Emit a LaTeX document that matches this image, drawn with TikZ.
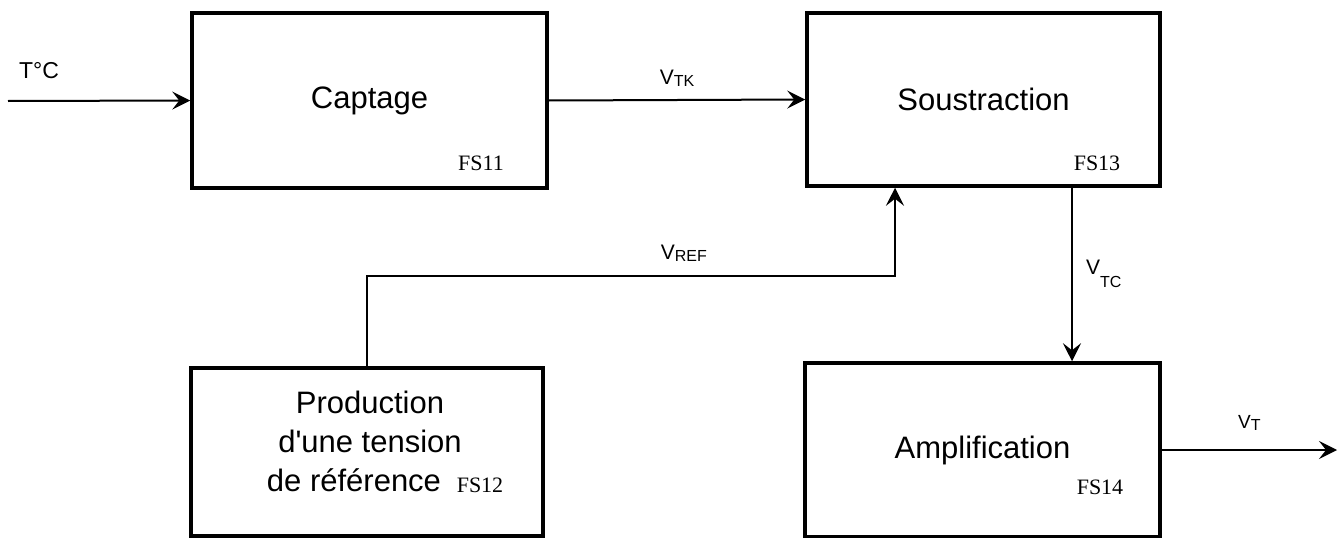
\documentclass[tikz,border=0pt]{standalone}
\usepackage{fontspec}
\setmainfont{Liberation Sans}
\newfontfamily\fsfont{Liberation Serif}
\usetikzlibrary{arrows.meta}

\newcommand\blocfont{\fontsize{31}{39}\selectfont}
\newcommand\sigfont{\fontsize{21}{24}\selectfont}
\newcommand\subfont{\fontsize{16}{16}\selectfont}
% tension: V with lowered index
\newcommand\tens[2][2pt]{V\raisebox{-#1}{\subfont #2}}

\begin{document}
\begin{tikzpicture}[x=1pt,y=-1pt,
    bloc/.style={draw,line width=3.5pt,inner sep=0pt,font=\blocfont,align=center},
    tag/.style={font=\fsfont\fontsize{22}{22}\selectfont,inner sep=0pt},
    sig/.style={font=\sigfont,inner sep=1pt,anchor=base},
    fleche/.style={line width=2pt,-{Stealth[length=18pt,width=18pt,inset=7pt]}}]
  \useasboundingbox (0,0) rectangle (1339,538);

  % blocs
  \node[bloc,minimum width=355,minimum height=175] (capt) at (369.5,100.5) {Captage};
  \node[bloc,minimum width=353,minimum height=173] (soust) at (983.5,99.5) {Soustraction};
  \node[bloc,minimum width=352,minimum height=168] (prod) at (367,452) {};
  \node[font=\blocfont,align=center] (prodtxt) at (370,441)
    {Production\\d\textquotesingle une tension\\de r\'ef\'erence\hspace*{32pt}};
  \node[bloc,minimum width=355,minimum height=174] (amp) at (982.5,450) {Amplification};

  \node[tag] (fs11) at (481,163) {FS11};
  \node[tag] (fs13) at (1097,163) {FS13};
  \node[tag] (fs12) at (480,485) {FS12};
  \node[tag] (fs14) at (1100,487) {FS14};

  % liaisons
  \coordinate (in) at (8,101);
  \coordinate (out) at (1337,450);
  \coordinate (refx) at (895,276);
  \coordinate (tcx) at (1072,0);

  \draw[fleche] (in) -- node[sig,pos=0.17,yshift=22pt,font=\fontsize{23}{26}\selectfont] (ltc) {T°C} (capt.west);
  \draw[fleche] (capt.east) -- node[sig,yshift=16pt] (ltk) {\tens{TK}} (soust.west);
  \draw[fleche] (prod.north) |- node[sig,pos=0.8,yshift=17pt] (lref) {\tens{REF}} (refx) -- (soust.south -| refx);
  \draw[fleche] (soust.south -| tcx) -- node[sig,anchor=base west,xshift=12pt] (lvtc) {\tens[13pt]{TC}} (amp.north -| tcx);
  \draw[fleche] (amp.east) -- node[sig,yshift=22pt,font=\fontsize{19}{22}\selectfont] (lvt) {\tens{T}} (out);
\end{tikzpicture}
\end{document}
